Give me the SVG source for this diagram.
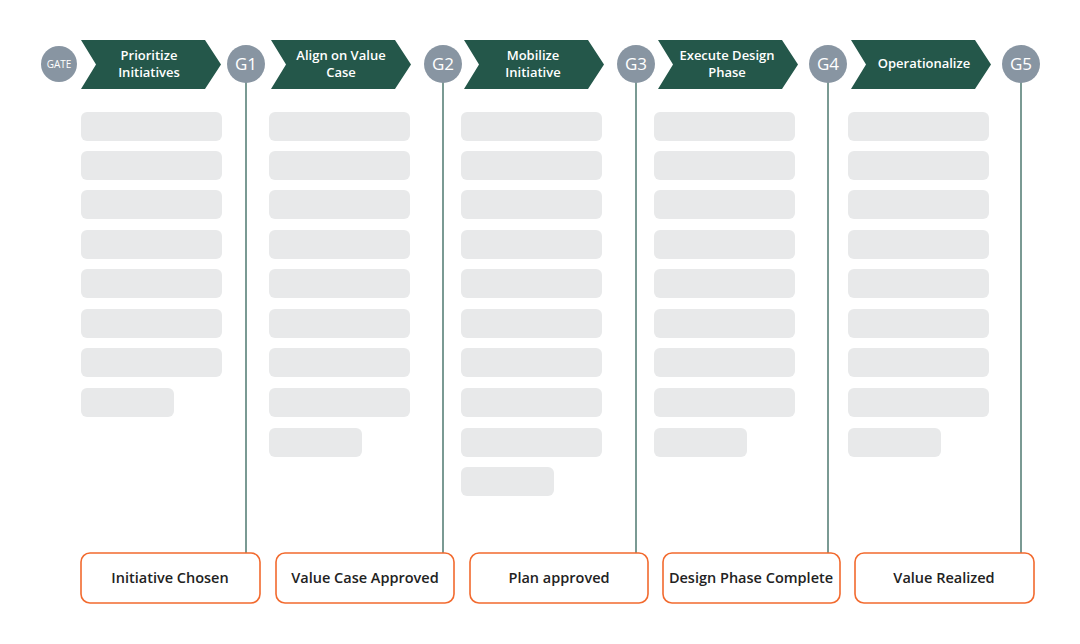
<svg xmlns="http://www.w3.org/2000/svg" width="1080" height="644" viewBox="0 0 1080 644">
<style>
.ch{fill:#24574a}
.ct{fill:#fff;font:600 13px "Open Sans","Liberation Sans",sans-serif;text-anchor:middle}
.g{fill:#8895a2}
.gt{fill:#fff;font:17px "Open Sans","Liberation Sans",sans-serif;text-anchor:middle}
.b{fill:#e8e9ea}
.ln{stroke:#7a9a93;stroke-width:2}
.bx{fill:#fff;stroke:#f26a2e;stroke-width:1.6}
.bt{fill:#222;font:600 14.5px "Open Sans","Liberation Sans",sans-serif;text-anchor:middle}
</style>
<defs>
<path id="chev" d="M0,0 H124 L140,24.5 L124,49 H0 L15,24.5 Z"/>
<rect id="bar" width="141" height="29" rx="6"/>
<rect id="sbar" width="93" height="29" rx="6"/>
</defs>
<rect width="1080" height="644" fill="#fff"/>
<g id="connectors">
<line class="ln" x1="246" y1="64" x2="246" y2="553"/>
<line class="ln" x1="443" y1="64" x2="443" y2="553"/>
<line class="ln" x1="636" y1="64" x2="636" y2="553"/>
<line class="ln" x1="828" y1="64" x2="828" y2="553"/>
<line class="ln" x1="1021" y1="64" x2="1021" y2="553"/>
</g>
<g id="gate"><circle class="g" cx="59" cy="64" r="18"/><text class="gt" x="59" y="68" style="font-size:10px">GATE</text></g>
<g id="phase1"><use href="#chev" class="ch" x="81" y="40"/><text class="ct" x="149" y="60">Prioritize</text><text class="ct" x="149" y="77">Initiatives</text></g>
<g id="g1"><circle class="g" cx="246" cy="64" r="19"/><text class="gt" x="246" y="70">G1</text></g>
<g id="phase2"><use href="#chev" class="ch" x="271" y="40"/><text class="ct" x="341" y="60">Align on Value</text><text class="ct" x="341" y="77">Case</text></g>
<g id="g2"><circle class="g" cx="443" cy="64" r="19"/><text class="gt" x="443" y="70">G2</text></g>
<g id="phase3"><use href="#chev" class="ch" x="464" y="40"/><text class="ct" x="533" y="60">Mobilize</text><text class="ct" x="533" y="77">Initiative</text></g>
<g id="g3"><circle class="g" cx="636" cy="64" r="19"/><text class="gt" x="636" y="70">G3</text></g>
<g id="phase4"><use href="#chev" class="ch" x="658" y="40"/><text class="ct" x="727" y="60">Execute Design</text><text class="ct" x="727" y="77">Phase</text></g>
<g id="g4"><circle class="g" cx="828" cy="64" r="19"/><text class="gt" x="828" y="70">G4</text></g>
<g id="phase5"><use href="#chev" class="ch" x="851" y="40"/><text class="ct" x="924" y="68">Operationalize</text></g>
<g id="g5"><circle class="g" cx="1021" cy="64" r="19"/><text class="gt" x="1021" y="70">G5</text></g>
<g id="bars1" class="b">
<use href="#bar" x="81" y="112"/><use href="#bar" x="81" y="151"/><use href="#bar" x="81" y="190"/><use href="#bar" x="81" y="230"/><use href="#bar" x="81" y="269"/><use href="#bar" x="81" y="309"/><use href="#bar" x="81" y="348"/><use href="#sbar" x="81" y="388"/>
</g>
<g id="bars2" class="b">
<use href="#bar" x="269" y="112"/><use href="#bar" x="269" y="151"/><use href="#bar" x="269" y="190"/><use href="#bar" x="269" y="230"/><use href="#bar" x="269" y="269"/><use href="#bar" x="269" y="309"/><use href="#bar" x="269" y="348"/><use href="#bar" x="269" y="388"/><use href="#sbar" x="269" y="428"/>
</g>
<g id="bars3" class="b">
<use href="#bar" x="461" y="112"/><use href="#bar" x="461" y="151"/><use href="#bar" x="461" y="190"/><use href="#bar" x="461" y="230"/><use href="#bar" x="461" y="269"/><use href="#bar" x="461" y="309"/><use href="#bar" x="461" y="348"/><use href="#bar" x="461" y="388"/><use href="#bar" x="461" y="428"/><use href="#sbar" x="461" y="467"/>
</g>
<g id="bars4" class="b">
<use href="#bar" x="654" y="112"/><use href="#bar" x="654" y="151"/><use href="#bar" x="654" y="190"/><use href="#bar" x="654" y="230"/><use href="#bar" x="654" y="269"/><use href="#bar" x="654" y="309"/><use href="#bar" x="654" y="348"/><use href="#bar" x="654" y="388"/><use href="#sbar" x="654" y="428"/>
</g>
<g id="bars5" class="b">
<use href="#bar" x="848" y="112"/><use href="#bar" x="848" y="151"/><use href="#bar" x="848" y="190"/><use href="#bar" x="848" y="230"/><use href="#bar" x="848" y="269"/><use href="#bar" x="848" y="309"/><use href="#bar" x="848" y="348"/><use href="#bar" x="848" y="388"/><use href="#sbar" x="848" y="428"/>
</g>
<g id="out1"><rect class="bx" x="81" y="553" width="179" height="50" rx="9"/><text class="bt" x="170" y="583">Initiative Chosen</text></g>
<g id="out2"><rect class="bx" x="276" y="553" width="178" height="50" rx="9"/><text class="bt" x="365" y="583">Value Case Approved</text></g>
<g id="out3"><rect class="bx" x="470" y="553" width="178" height="50" rx="9"/><text class="bt" x="559" y="583">Plan approved</text></g>
<g id="out4"><rect class="bx" x="663" y="553" width="177" height="50" rx="9"/><text class="bt" x="751" y="583">Design Phase Complete</text></g>
<g id="out5"><rect class="bx" x="855" y="553" width="179" height="50" rx="9"/><text class="bt" x="944" y="583">Value Realized</text></g>
</svg>
